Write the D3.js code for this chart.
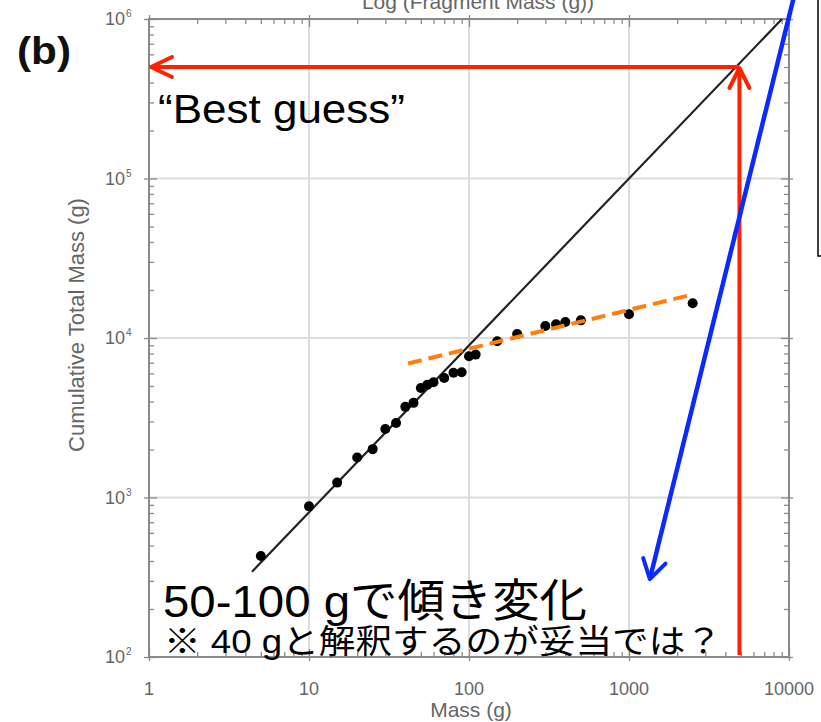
<!DOCTYPE html>
<html>
<head>
<meta charset="utf-8">
<script src="https://cdn.jsdelivr.net/npm/d3@7"></script>
<style>
  html, body { margin: 0; padding: 0; background: #fff; }
  svg { display: block; }
</style>
</head>
<body>
<svg id="chart" width="821" height="722"></svg>
<script>
// ---- data ----
const massValues = [5, 10, 15, 20, 25, 30, 35, 40, 45, 50, 55, 60, 70, 80, 90, 100, 110, 150, 200, 300, 350, 400, 500, 1000, 2500];
const cumulativeValues = [430, 880, 1240, 1780, 2010, 2690, 2930, 3700, 3920, 4860, 5100, 5280, 5620, 6050, 6100, 7690, 7870, 9550, 10600, 11900, 12200, 12600, 12900, 14100, 16500];
const fitMass = [4.4, 9040];
const fitTotal = [342, 1000000];
const trendMass = [41.6, 2510];
const trendTotal = [6920, 18760];
const bestGuessMass = 4900;
const bestGuessTotal = 500000;
const blueFrom = [11400, 1760000];
const blueTo = [1350, 308];
const xTicks = [1, 10, 100, 1000, 10000];
const xTickLabels = ["1", "10", "100", "1000", "10000"];
const yTicks = [100, 1000, 10000, 100000, 1000000];
const yTickExponents = ["2", "3", "4", "5", "6"];
const xTitle = "Mass (g)";
const yTitle = "Cumulative Total Mass (g)";
const topTitle = "Log (Fragment Mass (g))";
const panelLabel = "(b)";
const bestGuessLabel = "\u201CBest guess\u201D";
const note1 = "50-100 gで傾き変化";
const note2 = "※ 40 gと解釈するのが妥当では？";

// ---- scales ----
const x = d3.scaleLog().domain([1, 10000]).range([149, 789]);
const y = d3.scaleLog().domain([100, 1000000]).range([657, 19]);
const svg = d3.select("#chart");

const axisColor = "#8a8a8a";
const gridColor = "#dcdcdc";
const textColor = "#666";
const latin = "Liberation Sans, Arial, sans-serif";
const mixed = "Liberation Sans, Arial, 'Noto Sans CJK JP', sans-serif";

// minor tick values
const xMinor = [];
for (let d = 1; d < 10000; d *= 10) for (let k = 2; k <= 9; k++) xMinor.push(d * k);
const yMinor = [];
for (let d = 100; d < 1000000; d *= 10) for (let k = 2; k <= 9; k++) yMinor.push(d * k);

// gridlines
const grid = svg.append("g");
grid.selectAll("line.gx").data(xTicks.slice(1, -1)).join("line")
  .attr("x1", d => x(d)).attr("x2", d => x(d))
  .attr("y1", y(1000000)).attr("y2", y(100))
  .attr("stroke", gridColor).attr("stroke-width", 2);
grid.selectAll("line.gy").data(yTicks.slice(1, -1)).join("line")
  .attr("y1", d => y(d)).attr("y2", d => y(d))
  .attr("x1", x(1)).attr("x2", x(10000))
  .attr("stroke", gridColor).attr("stroke-width", 2);

function styleAxis(g) {
  g.select(".domain").remove();
  g.selectAll("line").attr("stroke", axisColor).attr("stroke-width", 1.3);
  g.selectAll("text").remove();
}
// minor ticks (inward)
svg.append("g").attr("transform", `translate(0,${y(100)})`)
  .call(d3.axisTop(x).tickValues(xMinor).tickSize(5)).call(styleAxis);
svg.append("g").attr("transform", `translate(0,${y(1000000)})`)
  .call(d3.axisBottom(x).tickValues(xMinor).tickSize(5)).call(styleAxis);
svg.append("g").attr("transform", `translate(${x(1)},0)`)
  .call(d3.axisRight(y).tickValues(yMinor).tickSize(5)).call(styleAxis);
svg.append("g").attr("transform", `translate(${x(10000)},0)`)
  .call(d3.axisLeft(y).tickValues(yMinor).tickSize(5)).call(styleAxis);
// major ticks (crossing)
svg.append("g").attr("transform", `translate(0,${y(100) + 4})`)
  .call(d3.axisTop(x).tickValues(xTicks).tickSize(12)).call(styleAxis);
svg.append("g").attr("transform", `translate(0,${y(1000000) - 4})`)
  .call(d3.axisBottom(x).tickValues(xTicks).tickSize(12)).call(styleAxis);
svg.append("g").attr("transform", `translate(${x(1) - 5},0)`)
  .call(d3.axisRight(y).tickValues(yTicks).tickSize(13)).call(styleAxis);
svg.append("g").attr("transform", `translate(${x(10000) + 4},0)`)
  .call(d3.axisLeft(y).tickValues(yTicks).tickSize(12)).call(styleAxis);

// frame
svg.append("rect")
  .attr("x", x(1)).attr("y", y(1000000))
  .attr("width", x(10000) - x(1)).attr("height", y(100) - y(1000000))
  .attr("fill", "none").attr("stroke", axisColor).attr("stroke-width", 2);

// tick labels
svg.append("g").selectAll("text").data(xTicks).join("text")
  .attr("x", d => x(d)).attr("y", 695)
  .attr("text-anchor", "middle")
  .attr("font-family", latin)
  .attr("font-size", 18).attr("fill", textColor)
  .text((d, i) => xTickLabels[i]);

svg.append("g").selectAll("text").data(yTicks).join("text")
  .attr("x", 125).attr("y", d => y(d) + 6)
  .attr("text-anchor", "end")
  .attr("font-family", latin)
  .attr("font-size", 18).attr("fill", textColor)
  .text("10");
svg.append("g").selectAll("text").data(yTicks).join("text")
  .attr("x", 126).attr("y", d => y(d) - 2)
  .attr("font-family", latin)
  .attr("font-size", 10).attr("fill", textColor)
  .text((d, i) => yTickExponents[i]);

// axis titles
svg.append("text").attr("x", 471).attr("y", 717)
  .attr("text-anchor", "middle")
  .attr("font-family", latin)
  .attr("font-size", 21).attr("fill", textColor).text(xTitle);
svg.append("text").attr("transform", "translate(84,325) rotate(-90)")
  .attr("text-anchor", "middle")
  .attr("font-family", latin)
  .attr("font-size", 22).attr("fill", textColor).text(yTitle);
svg.append("text").attr("x", 478).attr("y", 9)
  .attr("text-anchor", "middle")
  .attr("font-family", latin)
  .attr("font-size", 21).attr("fill", textColor).text(topTitle);

// panel label
svg.append("text").attr("x", 17).attr("y", 64)
  .attr("font-family", latin)
  .attr("font-weight", "bold")
  .attr("font-size", 38).attr("textLength", 54).attr("lengthAdjust", "spacingAndGlyphs")
  .attr("fill", "#111").text(panelLabel);

// fit line
svg.append("line")
  .attr("x1", x(fitMass[0])).attr("y1", y(fitTotal[0]))
  .attr("x2", x(fitMass[1])).attr("y2", y(fitTotal[1]))
  .attr("stroke", "#222").attr("stroke-width", 2.2);

// data points
svg.append("g").selectAll("circle").data(massValues).join("circle")
  .attr("cx", d => x(d)).attr("cy", (d, i) => y(cumulativeValues[i]))
  .attr("r", 5).attr("fill", "#000");

// orange dashed trend
svg.append("line")
  .attr("x1", x(trendMass[0])).attr("y1", y(trendTotal[0]))
  .attr("x2", x(trendMass[1])).attr("y2", y(trendTotal[1]))
  .attr("stroke", "#ff7f0a").attr("stroke-width", 4)
  .attr("stroke-dasharray", "14,7");

// red arrows
const red = "#ff2200";
const bx = x(bestGuessMass), by = y(bestGuessTotal);
svg.append("line").attr("x1", bx).attr("y1", by).attr("x2", x(1) + 2).attr("y2", by)
  .attr("stroke", red).attr("stroke-width", 4);
svg.append("polyline")
  .attr("points", `${x(1) + 23},${by - 10} ${x(1) + 2},${by} ${x(1) + 23},${by + 10}`)
  .attr("fill", "none").attr("stroke", red).attr("stroke-width", 4)
  .attr("stroke-linecap", "round").attr("stroke-linejoin", "round");
svg.append("line").attr("x1", bx).attr("y1", y(100) - 2).attr("x2", bx).attr("y2", by + 1)
  .attr("stroke", red).attr("stroke-width", 4);
svg.append("polyline")
  .attr("points", `${bx - 10},${by + 21} ${bx},${by + 1} ${bx + 10},${by + 21}`)
  .attr("fill", "none").attr("stroke", red).attr("stroke-width", 4)
  .attr("stroke-linecap", "round").attr("stroke-linejoin", "round");

// blue arrow
const blue = "#0a2aff";
const b0 = [x(blueFrom[0]), y(blueFrom[1])], b1 = [x(blueTo[0]), y(blueTo[1])];
svg.append("line").attr("x1", b0[0]).attr("y1", b0[1]).attr("x2", b1[0]).attr("y2", b1[1])
  .attr("stroke", blue).attr("stroke-width", 4.5);
const ang = Math.atan2(b1[1] - b0[1], b1[0] - b0[0]);
const hl = 22, ha = 0.55;
const p1 = [b1[0] - hl * Math.cos(ang - ha), b1[1] - hl * Math.sin(ang - ha)];
const p2 = [b1[0] - hl * Math.cos(ang + ha), b1[1] - hl * Math.sin(ang + ha)];
svg.append("polyline")
  .attr("points", `${p1[0]},${p1[1]} ${b1[0]},${b1[1]} ${p2[0]},${p2[1]}`)
  .attr("fill", "none").attr("stroke", blue).attr("stroke-width", 4)
  .attr("stroke-linecap", "round").attr("stroke-linejoin", "round");

// right box (partially visible)
svg.append("rect").attr("x", 818).attr("y", -5).attr("width", 30).attr("height", 261)
  .attr("fill", "none").attr("stroke", "#000").attr("stroke-width", 1.5);

// annotations
svg.append("text").attr("x", 158).attr("y", 123)
  .attr("font-family", latin)
  .attr("font-size", 40).attr("textLength", 247).attr("lengthAdjust", "spacingAndGlyphs")
  .attr("fill", "#000").text(bestGuessLabel);
svg.append("text").attr("x", 163).attr("y", 617)
  .attr("font-family", mixed)
  .attr("font-size", 45).attr("textLength", 424).attr("lengthAdjust", "spacingAndGlyphs")
  .attr("fill", "#000").text(note1);
svg.append("text").attr("x", 164).attr("y", 653)
  .attr("font-family", mixed)
  .attr("font-size", 33).attr("textLength", 558).attr("lengthAdjust", "spacingAndGlyphs")
  .attr("fill", "#000").text(note2);
</script>
</body>
</html>
